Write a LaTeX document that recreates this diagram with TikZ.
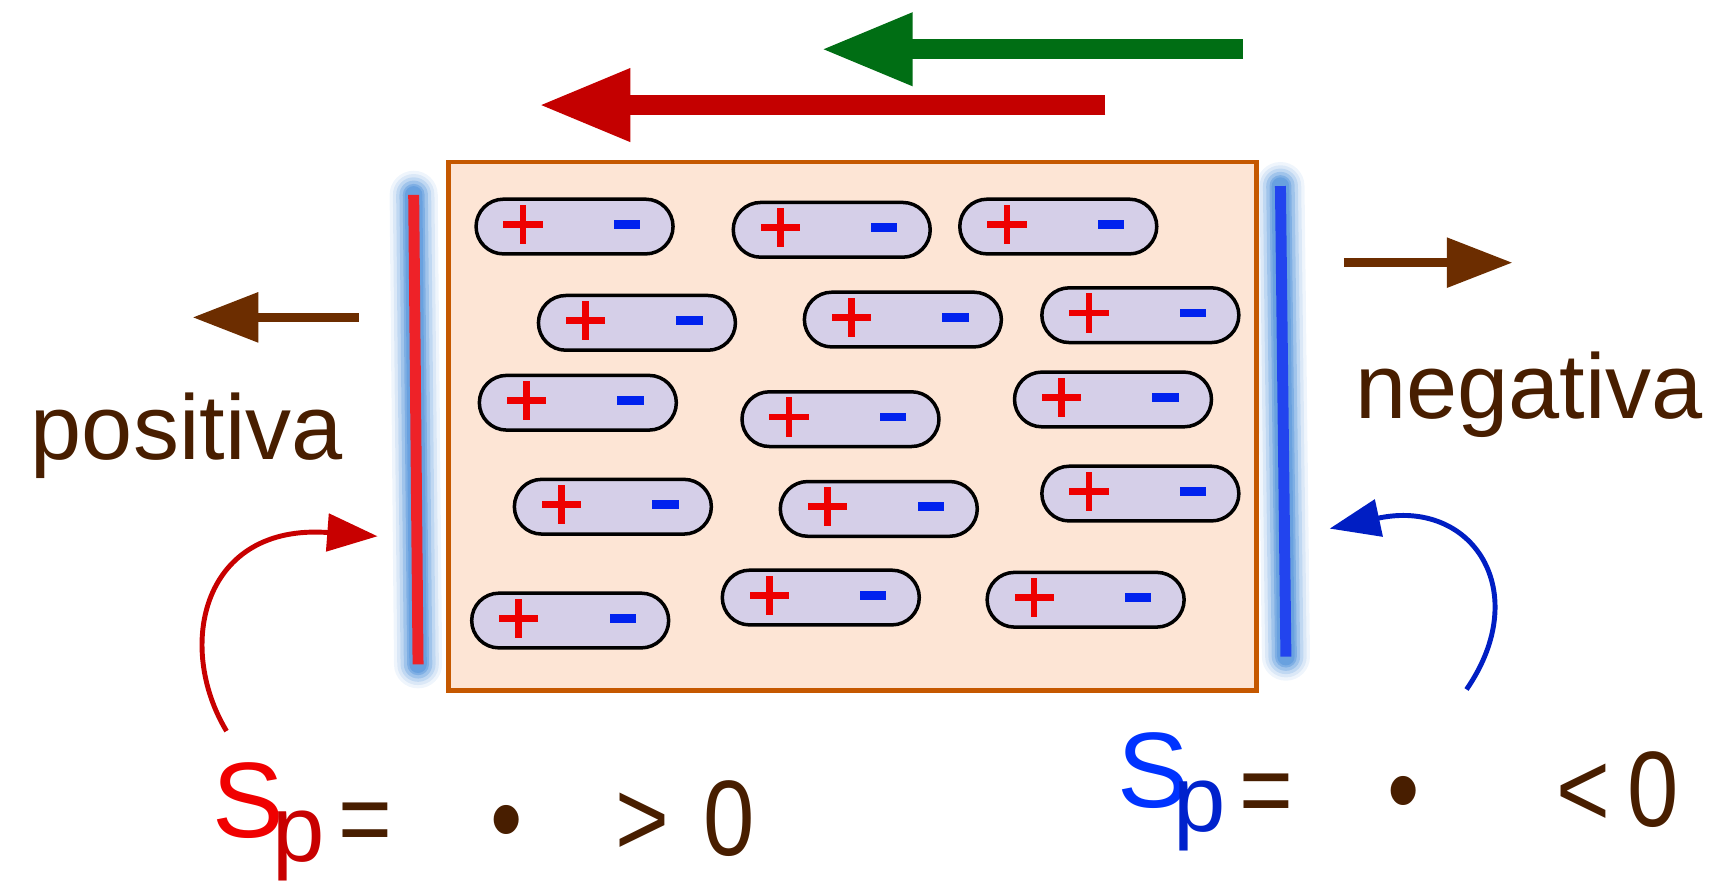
\documentclass[tikz,border=0pt]{standalone}
\usepackage{fontspec}
\setmainfont{Liberation Sans}
\newfontfamily\eqfont[FakeStretch=0.86]{Liberation Sans}
\usetikzlibrary{arrows.meta}
\definecolor{txtbrown}{RGB}{72,30,0}
\definecolor{arrbrown}{RGB}{108,45,0}
\definecolor{arrgreen}{RGB}{0,110,20}
\definecolor{arrred}{RGB}{196,0,0}
\definecolor{curvred}{RGB}{200,0,0}
\definecolor{curvblue}{RGB}{0,30,195}
\definecolor{boxline}{RGB}{197,88,0}
\definecolor{boxfill}{RGB}{253,229,213}
\definecolor{capfill}{RGB}{213,207,232}
\definecolor{plusred}{RGB}{238,0,0}
\definecolor{minusblue}{RGB}{0,34,238}
\definecolor{platered}{RGB}{238,34,40}
\definecolor{plateblue}{RGB}{34,68,238}
\definecolor{glow}{RGB}{100,158,222}
\definecolor{sred}{RGB}{240,0,0}
\definecolor{pred}{RGB}{200,0,0}
\definecolor{sblue}{RGB}{0,51,255}
\definecolor{pblue}{RGB}{0,34,204}
\newcommand\capsule[3]{%
  \node[capsule] (#1) at (#2,#3) {};
  \fill[plusred] ([xshift=-65pt,yshift=-1pt]#1.center) rectangle ([xshift=-29pt,yshift=5pt]#1.center);
  \fill[plusred] ([xshift=-50pt,yshift=-16pt]#1.center) rectangle ([xshift=-44pt,yshift=20pt]#1.center);
  \fill[minusblue] ([xshift=36pt,yshift=-2pt]#1.center) rectangle ([xshift=60pt,yshift=6pt]#1.center);
}
\begin{document}
\begin{tikzpicture}[x=1pt,y=-1pt,
  capsule/.style={draw=black, line width=3.2pt, fill=capfill, rounded corners=25pt,
    minimum width=180pt, minimum height=50pt, inner sep=0pt},
  bigarrow/.style={line width=18pt, -{Triangle[length=84pt,width=62pt]}},
  smallarrow/.style={arrbrown, line width=8pt, -{Triangle[length=60pt,width=44pt]}},
  curvearrow/.style={line width=4.5pt, -{Triangle[length=46pt,width=34pt]}},
  plate/.style={line width=10pt},
  bigtxt/.style={inner sep=0pt, text=txtbrown, font=\fontsize{84}{84}\selectfont},
  eqtxt/.style={inner sep=0pt, text=txtbrown, font=\eqfont\fontsize{98}{98}\selectfont, anchor=base west},
  stxt/.style={inner sep=0pt, font=\fontsize{98}{98}\selectfont, anchor=base west},
  subtxt/.style={inner sep=0pt, font=\fontsize{86}{86}\selectfont, anchor=base west}
]
\useasboundingbox (0,0) rectangle (1568,812);

% glow + plates
\coordinate (lp1) at (378,178); \coordinate (lp2) at (382,607);
\coordinate (rp1) at (1170,170); \coordinate (rp2) at (1175,600);
\foreach \w/\o in {44/0.10,38/0.15,32/0.22,26/0.35,20/0.55,16/0.8} {
  \draw[glow, line width=\w pt, opacity=\o, line cap=round] (lp1) -- (lp2);
  \draw[glow, line width=\w pt, opacity=\o, line cap=round] (rp1) -- (rp2);
}
\draw[plate, platered] (lp1) -- (lp2);
\draw[plate, plateblue] (rp1) -- (rp2);

% box
\node[draw=boxline, line width=4.5pt, fill=boxfill, minimum width=738pt, minimum height=483pt, inner sep=0pt] (box) at (779,389.5) {};

% capsules
\capsule{c11}{525}{207}
\capsule{c12}{760}{210}
\capsule{c13}{967}{207}
\capsule{c21}{582}{295}
\capsule{c22}{825}{292}
\capsule{c23}{1042}{288}
\capsule{c31}{528}{368}
\capsule{c32}{768}{383}
\capsule{c33}{1017}{365}
\capsule{c41}{560}{463}
\capsule{c42}{803}{465}
\capsule{c43}{1042}{451}
\capsule{c51}{521}{567}
\capsule{c52}{750}{546}
\capsule{c53}{992}{548}

% top arrows
\coordinate (ga) at (1136,45); \coordinate (gb) at (750,45);
\coordinate (ra) at (1010,96); \coordinate (rb) at (492,96);
\draw[bigarrow, arrgreen] (ga) -- (gb);
\draw[bigarrow, arrred] (ra) -- (rb);

% side arrows
\coordinate (la) at (328,290); \coordinate (lb) at (176,290);
\coordinate (rra) at (1228,240); \coordinate (rrb) at (1382,240);
\draw[smallarrow] (la) -- (lb);
\draw[smallarrow] (rra) -- (rrb);

% labels
\node[bigtxt, anchor=base west] (pos) at (28,420) {positiva};
\node[bigtxt, anchor=base west] (neg) at (1238,382) {negativa};

% curved arrows
\coordinate (cra) at (207,668); \coordinate (crb) at (345,490);
\draw[curvearrow, curvred] (cra) .. controls (160,590) and (185,478) .. (crb);
\coordinate (cba) at (1340,630); \coordinate (cbb) at (1215,483);
\draw[curvearrow, curvblue] (cba) .. controls (1402,540) and (1345,455) .. (cbb);

% equations left
\node[stxt, text=sred] (sl) at (194,765) {S};
\node[subtxt, text=pred] (pl) at (249,787) {p};
\node[eqtxt] (eql) at (309,782) {=};
\node[eqtxt, anchor=base] (dotl) at (463,782) {•};
\node[eqtxt] (gtl) at (562,782) {>};
\node[eqtxt] (zl) at (643,782) {0};

% equations right
\node[stxt, text=sblue] (sr) at (1021,738) {S};
\node[subtxt, text=pblue] (pr) at (1072,760) {p};
\node[eqtxt] (eqr) at (1132,755) {=};
\node[eqtxt, anchor=base] (dotr) at (1283,755) {•};
\node[eqtxt] (ltr) at (1422,755) {<};
\node[eqtxt] (zr) at (1487,755) {0};
\end{tikzpicture}
\end{document}
